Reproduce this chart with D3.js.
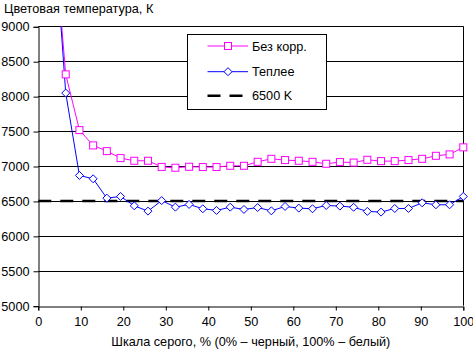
<!DOCTYPE html>
<html>
<head>
<meta charset="utf-8">
<script src="https://cdn.jsdelivr.net/npm/d3@7"></script>
<style>
body { margin: 0; background: #fff; }
text { font-family: "Liberation Sans", Arial, sans-serif; font-size: 12.7px; fill: #000; }
</style>
</head>
<body>
<svg id="chart" width="473" height="349"></svg>
<script>
// grey steps: 32 levels, index 1..31 (index 0 is off-chart)
var steps = d3.range(1, 32);
var noCorr = [10670, 8312, 7514, 7295, 7213, 7113, 7075, 7075, 6987, 6975,
    6989, 6985, 6985, 7003, 7003, 7060, 7103, 7085, 7075, 7060,
    7032, 7056, 7049, 7089, 7070, 7070, 7085, 7103, 7146, 7166, 7267];
var warmer = [10820, 8044, 6865, 6817, 6540, 6564, 6430, 6354, 6505, 6411,
    6450, 6388, 6364, 6411, 6378, 6405, 6358, 6421, 6397, 6388,
    6435, 6426, 6409, 6350, 6340, 6392, 6392, 6473, 6445, 6445, 6564];
var target = 6500;
var yTicks = [5000, 5500, 6000, 6500, 7000, 7500, 8000, 8500, 9000];
var xTicks = [0, 10, 20, 30, 40, 50, 60, 70, 80, 90, 100];
var legendLabels = ["Без корр.", "Теплее", "6500 K"];

var svg = d3.select("#chart");
var pLeft = 38.3, pRight = 463.3, pTop = 26.3, pBottom = 305.7;
var FONT = "12.7px";

var x = d3.scaleLinear().domain([0, 100]).range([pLeft, pRight]);
var y = d3.scaleLinear().domain([5000, 9000]).range([pBottom, pTop]);
var pct = function(i) { return i * 100 / 31; };

// gridlines
svg.append("g").selectAll("line").data(yTicks.slice(1)).enter().append("line")
    .attr("x1", pLeft).attr("x2", pRight)
    .attr("y1", function(d) { return Math.round(y(d)) + 0.5; })
    .attr("y2", function(d) { return Math.round(y(d)) + 0.5; })
    .attr("stroke", "#000").attr("stroke-width", 1);

// right border
svg.append("line").attr("x1", Math.round(pRight) + 0.5).attr("x2", Math.round(pRight) + 0.5)
    .attr("y1", pTop).attr("y2", pBottom).attr("stroke", "#000");

// axes
var yAxis = d3.axisLeft(y).tickValues(yTicks).tickSize(5).tickPadding(4).tickFormat(d3.format("d"));
var gy = svg.append("g").attr("transform", "translate(" + (Math.round(pLeft) + 0.5) + ",0.5)").call(yAxis);
var xAxis = d3.axisBottom(x).tickValues(xTicks).tickSize(4).tickPadding(6);
var gx = svg.append("g").attr("transform", "translate(0," + (Math.round(pBottom) + 0.5) + ")").call(xAxis);
[gy, gx].forEach(function(g) {
    g.select(".domain").attr("stroke", "#000");
    g.selectAll(".tick line").attr("stroke", "#000");
    g.selectAll("text").style("font-family", "Liberation Sans, Arial, sans-serif").style("font-size", FONT).attr("fill", "#000");
});

svg.append("clipPath").attr("id", "plot").append("rect")
    .attr("x", pLeft).attr("y", pTop).attr("width", pRight - pLeft + 6).attr("height", pBottom - pTop);

// 6500 K reference
svg.append("line").attr("x1", pLeft).attr("x2", pRight)
    .attr("y1", y(target)).attr("y2", y(target))
    .attr("stroke", "#000").attr("stroke-width", 2.5).attr("stroke-dasharray", "13,9");

var line = d3.line().x(function(d, i) { return x(pct(steps[i])); }).y(function(d) { return y(d); });
var plot = svg.append("g").attr("clip-path", "url(#plot)");

plot.append("path").datum(noCorr).attr("d", line).attr("fill", "none").attr("stroke", "#ff00ff").attr("stroke-width", 1);
plot.append("path").datum(warmer).attr("d", line).attr("fill", "none").attr("stroke", "#0000ff").attr("stroke-width", 1);

function diamond(cx, cy) {
    return "M" + cx + "," + (cy - 4) + "L" + (cx + 4) + "," + cy + "L" + cx + "," + (cy + 4) + "L" + (cx - 4) + "," + cy + "Z";
}

var marks = svg.append("g");
noCorr.forEach(function(d, i) {
    if (d > 9000) return;
    marks.append("rect")
        .attr("x", x(pct(steps[i])) - 3.5).attr("y", y(d) - 3.5)
        .attr("width", 7).attr("height", 7)
        .attr("fill", "#fff").attr("stroke", "#ff00ff");
});
warmer.forEach(function(d, i) {
    if (d > 9000) return;
    marks.append("path").attr("d", diamond(x(pct(steps[i])), y(d)))
        .attr("fill", "#fff").attr("stroke", "#0000ff");
});

// titles
svg.append("text").attr("x", 4).attr("y", 13).text("Цветовая температура, К");
svg.append("text").attr("x", (pLeft + pRight) / 2).attr("y", 346).attr("text-anchor", "middle")
    .text("Шкала серого, % (0% – черный, 100% – белый)");

// legend
var lg = svg.append("g");
lg.append("rect").attr("x", 187.5).attr("y", 34.5).attr("width", 139).attr("height", 75)
    .attr("fill", "#fff").attr("stroke", "#000");
var rows = [46, 71.7, 95.7];
lg.append("line").attr("x1", 207.5).attr("x2", 248).attr("y1", rows[0]).attr("y2", rows[0]).attr("stroke", "#ff00ff");
lg.append("rect").attr("x", 224.5).attr("y", rows[0] - 3.5).attr("width", 7).attr("height", 7).attr("fill", "#fff").attr("stroke", "#ff00ff");
lg.append("line").attr("x1", 207.5).attr("x2", 248).attr("y1", rows[1]).attr("y2", rows[1]).attr("stroke", "#0000ff");
lg.append("path").attr("d", diamond(228, rows[1])).attr("fill", "#fff").attr("stroke", "#0000ff");
lg.append("line").attr("x1", 207.5).attr("x2", 242.5).attr("y1", rows[2]).attr("y2", rows[2])
    .attr("stroke", "#000").attr("stroke-width", 2.5).attr("stroke-dasharray", "13,9");
lg.selectAll("text.lab").data(legendLabels).enter().append("text").attr("class", "lab")
    .attr("x", 252).attr("y", function(d, i) { return rows[i] + 4.5; }).text(function(d) { return d; });
</script>
</body>
</html>
